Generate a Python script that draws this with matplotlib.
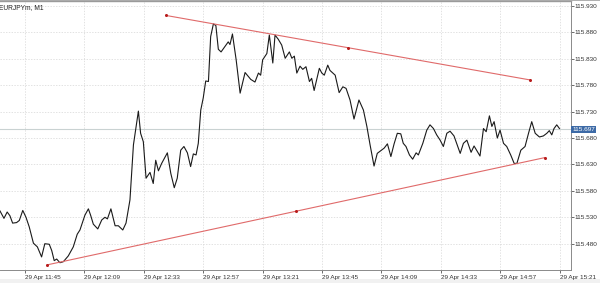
import matplotlib
matplotlib.use("Agg")
import matplotlib.pyplot as plt
import matplotlib.transforms as mtransforms
from matplotlib.patches import Rectangle

plt.rcParams['font.family'] = ['Liberation Sans', 'DejaVu Sans']

# minutes after 29 Apr 11:45 and close price
minutes = [-10.1, -8.5, -7.2, -6.1, -5.0, -3.4, -2.3, -0.9, 0.4, 1.7, 3.4, 5.0, 6.7, 8.0, 9.8,
           10.8, 11.8, 12.8, 14.1, 15.5, 17.5, 19.5, 21.1, 22.2, 24.2, 25.6, 26.5, 27.6, 29.4,
           31.0, 32.3, 33.3, 34.7, 36.4, 37.7, 39.5, 40.8, 42.4, 43.8, 45.8, 46.7, 47.8, 48.9,
           50.5, 51.8, 52.8, 53.9, 55.2, 57.5, 58.9, 60.3, 61.5, 62.9, 64.2, 65.6, 66.9, 68.0,
           69.1, 70.0, 71.0, 72.0, 73.0, 74.1, 75.0, 76.1, 77.1, 78.1, 79.2, 81.2, 82.1, 82.8,
           83.8, 85.3, 86.9, 88.9, 91.2, 92.9, 94.3, 95.2, 96.0, 97.7, 98.7, 100.1, 101.0,
           102.3, 103.7, 105.1, 106.8, 107.8, 108.8, 109.8, 111.1, 112.2, 113.5, 114.9, 115.8,
           116.8, 118.9, 119.9, 120.9, 122.3, 123.2, 125.3, 126.9, 128.4, 129.7, 131.3, 132.9,
           134.9, 136.7, 138.1, 139.4, 141.0, 142.3, 143.7, 145.1, 146.4, 147.8, 149.1, 150.4,
           151.8, 152.8, 153.9, 155.3, 156.6, 158.0, 158.9, 160.7, 162.3, 163.6, 165.0, 166.3,
           167.7, 169.0, 170.4, 171.7, 173.3, 175.8, 177.1, 178.5, 180.2, 181.4, 183.8, 185.2,
           186.3, 187.6, 188.6, 189.5, 190.8, 191.9, 193.3, 194.6, 196.2, 197.6, 198.7, 200.3,
           202.0, 203.4, 204.7, 206.1, 207.8, 209.4, 210.8, 211.8, 212.8, 213.7, 214.8, 215.9]
prices = [115.542, 115.528, 115.540, 115.533, 115.519, 115.520, 115.524, 115.543, 115.530,
          115.512, 115.481, 115.474, 115.455, 115.480, 115.479, 115.467, 115.448, 115.451,
          115.444, 115.446, 115.457, 115.474, 115.498, 115.506, 115.534, 115.546, 115.534,
          115.517, 115.508, 115.525, 115.530, 115.527, 115.546, 115.514, 115.514, 115.506,
          115.519, 115.563, 115.667, 115.731, 115.689, 115.673, 115.604, 115.615, 115.594,
          115.638, 115.618, 115.632, 115.652, 115.613, 115.586, 115.604, 115.657, 115.664,
          115.652, 115.626, 115.650, 115.648, 115.670, 115.733, 115.756, 115.788, 115.787,
          115.872, 115.896, 115.893, 115.848, 115.843, 115.856, 115.862, 115.857, 115.877,
          115.828, 115.765, 115.804, 115.791, 115.786, 115.803, 115.799, 115.828, 115.840,
          115.875, 115.822, 115.875, 115.867, 115.856, 115.831, 115.843, 115.831, 115.835,
          115.803, 115.816, 115.810, 115.815, 115.787, 115.793, 115.770, 115.812, 115.803,
          115.799, 115.818, 115.808, 115.799, 115.766, 115.777, 115.774, 115.752, 115.716,
          115.752, 115.733, 115.702, 115.667, 115.627, 115.651, 115.656, 115.661, 115.669,
          115.645, 115.669, 115.689, 115.688, 115.670, 115.664, 115.648, 115.640, 115.652,
          115.648, 115.670, 115.695, 115.705, 115.698, 115.686, 115.676, 115.664, 115.689,
          115.693, 115.684, 115.651, 115.670, 115.676, 115.653, 115.665, 115.646, 115.698,
          115.692, 115.722, 115.702, 115.711, 115.680, 115.695, 115.670, 115.664, 115.648,
          115.632, 115.632, 115.657, 115.664, 115.689, 115.711, 115.689, 115.682, 115.684,
          115.689, 115.694, 115.686, 115.698, 115.705, 115.698]

# trend lines: start, middle, end anchors
upper_t = [57.0, 130.5, 204.0]
upper_p = [115.912, 115.851, 115.790]
lower_t = [9.0, 109.5, 210.0]
lower_p = [115.440, 115.5415, 115.643]

last_price = 115.697
tick_minutes = [0, 24, 48, 72, 96, 120, 144, 168, 192, 216]
tick_labels = ['29 Apr 11:45', '29 Apr 12:09', '29 Apr 12:33', '29 Apr 12:57', '29 Apr 13:21',
               '29 Apr 13:45', '29 Apr 14:09', '29 Apr 14:33', '29 Apr 14:57', '29 Apr 15:21']
price_ticks = [115.480, 115.530, 115.580, 115.630, 115.680, 115.730, 115.780, 115.830,
               115.880, 115.930]

fig = plt.figure(figsize=(6, 2.83), dpi=100)
fig.patch.set_facecolor('white')
ax = fig.add_axes([0, 0.0477, 0.951, 0.9473])

ax.plot(minutes, prices, color='#1a1a1a', lw=0.8)
ax.plot(upper_t, upper_p, color='#e06a6a', lw=0.8)
ax.plot(lower_t, lower_p, color='#e06a6a', lw=0.8)
ax.plot(upper_t, upper_p, 'o', color='#b81c1c', ms=2.2, mew=0)
ax.plot(lower_t, lower_p, 'o', color='#b81c1c', ms=2.2, mew=0)

ax.axhline(last_price, color='#c9d2d2', lw=0.8, zorder=0)

ax.set_xlim(-10.1, 220.4)
ax.set_ylim(115.4312, 115.9386)

ax.set_xticks(tick_minutes)
ax.set_xticklabels(tick_labels, ha='left')
ax.set_yticks(price_ticks)
ax.set_yticklabels(['%.3f' % p for p in price_ticks])
ax.yaxis.tick_right()
ax.tick_params(axis='both', labelsize=4.6, colors='#333333', length=2, width=0.5, pad=1)
ax.tick_params(axis='x', pad=2)

ax.grid(True, color='#d6d6d6', lw=0.5, linestyle=(0, (2, 2)))
ax.set_axisbelow(True)

for side in ['left']:
    ax.spines[side].set_visible(False)
for side in ['bottom', 'right']:
    ax.spines[side].set_color('#8a8a8a')
    ax.spines[side].set_linewidth(0.7)
ax.spines['top'].set_color('#9a9a9a')
ax.spines['top'].set_linewidth(1.0)

trans = mtransforms.blended_transform_factory(ax.transAxes, ax.transData)
ax.text(1.003, last_price, '115.697', transform=trans, fontsize=4.6, color='white',
        va='center', ha='left',
        bbox=dict(boxstyle='square,pad=0.15', facecolor='#3d6aa6', edgecolor='none'))

fig.text(-0.002, 0.975, 'EURJPYm, M1', fontsize=4.8, color='#222222', va='center', ha='left')

fig.patches.append(Rectangle((0, 0), 1, 0.014, transform=fig.transFigure,
                             facecolor='#f1f1f1', edgecolor='none', zorder=-1))
fig.patches.append(Rectangle((0, 0.995), 1, 0.005, transform=fig.transFigure,
                             facecolor='#b0b0b0', edgecolor='none', zorder=-1))

fig.savefig('out.png', dpi=100)
